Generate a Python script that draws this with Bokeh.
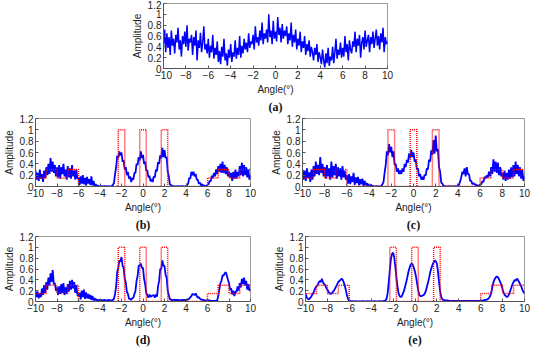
from bokeh.plotting import figure
from bokeh.layouts import column, row
from bokeh.models import Range1d, FixedTicker, Title
from bokeh.embed import file_html
from bokeh.resources import INLINE
import numpy as np

angle = np.round(np.arange(-10, 10.0001, 0.1), 1)

amp_a = [
0.45,0.72,0.30,0.65,0.38,0.58,0.25,0.70,0.42,0.55,
0.28,0.62,0.48,0.75,0.35,0.52,0.22,0.60,0.45,0.68,
0.40,0.80,0.33,0.55,0.48,0.62,0.25,0.58,0.42,0.70,
0.15,0.52,0.38,0.66,0.30,0.48,0.78,0.35,0.45,0.28,
0.55,0.20,0.42,0.30,0.62,0.18,0.38,0.25,0.50,0.12,
0.32,0.08,0.40,0.22,0.55,0.15,0.28,0.05,0.35,0.20,
0.45,0.12,0.30,0.22,0.52,0.18,0.38,0.25,0.60,0.20,
0.42,0.28,0.55,0.35,0.48,0.30,0.65,0.38,0.50,0.45,
0.62,0.35,0.78,0.48,0.58,0.42,0.70,0.52,0.85,0.45,
0.65,0.55,0.72,0.48,1.00,0.58,0.70,0.45,0.88,0.55,
0.68,0.50,0.95,0.62,0.75,0.48,0.82,0.55,0.70,0.60,
0.78,0.45,0.65,0.52,0.85,0.40,0.62,0.48,0.72,0.35,
0.55,0.42,0.68,0.30,0.50,0.38,0.60,0.25,0.45,0.32,
0.52,0.22,0.40,0.30,0.15,0.38,0.25,0.45,0.12,0.30,
0.20,0.08,0.35,0.15,0.02,0.28,0.10,0.38,0.05,0.22,
0.15,0.40,0.10,0.30,0.55,0.18,0.35,0.25,0.48,0.20,
0.38,0.22,0.60,0.30,0.45,0.15,0.52,0.35,0.28,0.50,
0.40,0.68,0.30,0.55,0.42,0.62,0.20,0.48,0.58,0.35,
0.70,0.40,0.52,0.62,0.30,0.58,0.45,0.68,0.38,0.55,
0.72,0.42,0.60,0.35,0.65,0.48,0.75,0.30,0.58,0.45,
0.50]

amp_b = [
0.28,0.12,0.24,0.10,0.30,0.14,0.22,0.08,0.28,0.15,
0.34,0.20,0.40,0.22,0.50,0.26,0.44,0.24,0.38,0.18,
0.34,0.16,0.38,0.14,0.34,0.22,0.40,0.18,0.30,0.12,
0.36,0.16,0.32,0.14,0.38,0.18,0.28,0.12,0.30,0.14,
0.16,0.03,0.18,0.05,0.20,0.04,0.15,0.02,0.17,0.05,
0.13,0.03,0.18,0.02,0.10,0.01,0.04,0.00,0.02,0.00,
0.00,0.01,0.00,0.00,0.01,0.00,0.00,0.01,0.00,0.00,
0.00,0.01,0.03,0.06,0.22,0.34,0.54,0.50,0.62,0.55,
0.60,0.44,0.46,0.30,0.34,0.20,0.26,0.14,0.18,0.08,
0.15,0.12,0.24,0.24,0.40,0.38,0.52,0.46,0.62,0.50,
0.56,0.40,0.44,0.28,0.29,0.16,0.19,0.09,0.13,0.08,
0.18,0.16,0.30,0.27,0.43,0.40,0.55,0.50,0.68,0.52,
0.64,0.50,0.52,0.26,0.18,0.04,0.03,0.00,0.01,0.00,
0.00,0.00,0.01,0.00,0.00,0.00,0.01,0.00,0.00,0.00,
0.00,0.03,0.05,0.15,0.14,0.26,0.20,0.26,0.18,0.22,
0.12,0.12,0.05,0.07,0.02,0.04,0.01,0.02,0.00,0.01,
0.03,0.04,0.10,0.09,0.19,0.15,0.24,0.18,0.30,0.22,
0.36,0.26,0.40,0.24,0.44,0.24,0.38,0.22,0.34,0.18,
0.26,0.16,0.24,0.10,0.26,0.14,0.30,0.14,0.26,0.18,
0.36,0.20,0.42,0.18,0.38,0.20,0.34,0.16,0.30,0.12,
0.20]

amp_c = [
0.30,0.12,0.28,0.10,0.32,0.15,0.25,0.08,0.30,0.12,
0.36,0.18,0.44,0.22,0.38,0.20,0.52,0.24,0.40,0.18,
0.34,0.14,0.38,0.18,0.32,0.12,0.44,0.16,0.36,0.20,
0.40,0.14,0.34,0.18,0.32,0.12,0.36,0.16,0.28,0.12,
0.20,0.05,0.22,0.04,0.18,0.08,0.24,0.03,0.16,0.06,
0.17,0.02,0.13,0.04,0.14,0.01,0.10,0.02,0.06,0.01,
0.04,0.00,0.03,0.00,0.01,0.00,0.00,0.01,0.00,0.00,
0.00,0.01,0.04,0.08,0.25,0.38,0.62,0.55,0.75,0.60,
0.70,0.52,0.62,0.38,0.40,0.26,0.32,0.22,0.28,0.22,
0.32,0.26,0.40,0.34,0.47,0.42,0.58,0.50,0.64,0.52,
0.60,0.44,0.48,0.30,0.32,0.18,0.22,0.12,0.17,0.12,
0.21,0.19,0.32,0.30,0.47,0.44,0.64,0.56,0.82,0.58,
0.90,0.62,0.66,0.34,0.26,0.07,0.05,0.01,0.01,0.00,
0.00,0.00,0.01,0.00,0.00,0.00,0.00,0.01,0.00,0.00,
0.00,0.03,0.09,0.16,0.26,0.22,0.32,0.18,0.34,0.22,
0.22,0.10,0.10,0.04,0.06,0.03,0.04,0.01,0.02,0.01,
0.03,0.04,0.09,0.08,0.17,0.14,0.20,0.16,0.26,0.18,
0.34,0.22,0.48,0.26,0.44,0.24,0.42,0.20,0.34,0.18,
0.24,0.12,0.28,0.10,0.24,0.12,0.30,0.14,0.34,0.16,
0.38,0.18,0.44,0.22,0.38,0.18,0.34,0.14,0.30,0.10,
0.18]

amp_d = [
0.20,0.08,0.18,0.06,0.15,0.08,0.24,0.12,0.30,0.16,
0.36,0.22,0.44,0.30,0.52,0.36,0.58,0.32,0.34,0.20,
0.26,0.12,0.28,0.14,0.32,0.16,0.34,0.12,0.26,0.14,
0.32,0.18,0.38,0.22,0.40,0.24,0.36,0.16,0.30,0.12,
0.10,0.16,0.04,0.20,0.08,0.22,0.05,0.17,0.06,0.14,
0.05,0.12,0.03,0.10,0.02,0.06,0.02,0.04,0.01,0.03,
0.02,0.03,0.02,0.02,0.03,0.02,0.02,0.02,0.03,0.02,
0.02,0.02,0.03,0.05,0.14,0.28,0.54,0.62,0.76,0.74,
0.82,0.66,0.62,0.42,0.35,0.18,0.14,0.05,0.05,0.03,
0.06,0.07,0.14,0.20,0.38,0.47,0.66,0.66,0.70,0.62,
0.62,0.42,0.32,0.16,0.12,0.07,0.13,0.09,0.10,0.11,
0.12,0.07,0.13,0.09,0.28,0.38,0.60,0.60,0.76,0.66,
0.66,0.50,0.44,0.20,0.12,0.04,0.04,0.02,0.03,0.03,
0.02,0.03,0.02,0.03,0.02,0.02,0.03,0.02,0.03,0.02,
0.03,0.03,0.04,0.05,0.08,0.10,0.14,0.13,0.12,0.15,
0.10,0.07,0.08,0.05,0.04,0.03,0.03,0.02,0.02,0.02,
0.02,0.02,0.02,0.01,0.01,0.01,0.01,0.01,0.01,0.02,
0.10,0.22,0.34,0.38,0.48,0.48,0.52,0.54,0.48,0.40,
0.34,0.22,0.24,0.13,0.20,0.10,0.18,0.18,0.28,0.20,
0.34,0.26,0.42,0.32,0.44,0.30,0.38,0.22,0.32,0.20,
0.22]

amp_e = [
0.15,0.08,0.05,0.04,0.06,0.08,0.12,0.15,0.20,0.25,
0.28,0.30,0.35,0.38,0.36,0.42,0.35,0.32,0.30,0.25,
0.22,0.18,0.15,0.14,0.15,0.18,0.20,0.24,0.28,0.32,
0.36,0.38,0.40,0.42,0.40,0.35,0.28,0.20,0.10,0.04,
0.01,0.01,0.00,0.01,0.00,0.00,0.01,0.00,0.00,0.00,
0.00,0.00,0.01,0.00,0.00,0.00,0.00,0.01,0.00,0.00,
0.00,0.00,0.00,0.01,0.00,0.00,0.00,0.00,0.01,0.00,
0.00,0.01,0.01,0.02,0.05,0.15,0.35,0.58,0.78,0.88,
0.90,0.82,0.65,0.45,0.28,0.15,0.10,0.08,0.10,0.15,
0.20,0.28,0.36,0.45,0.55,0.62,0.68,0.70,0.68,0.62,
0.55,0.45,0.32,0.20,0.12,0.10,0.10,0.11,0.12,0.15,
0.20,0.28,0.36,0.45,0.55,0.62,0.68,0.72,0.76,0.74,
0.70,0.55,0.35,0.18,0.08,0.04,0.03,0.02,0.02,0.02,
0.02,0.01,0.01,0.01,0.01,0.01,0.01,0.01,0.01,0.01,
0.01,0.01,0.01,0.01,0.01,0.01,0.01,0.01,0.01,0.01,
0.01,0.01,0.01,0.01,0.01,0.01,0.01,0.01,0.01,0.01,
0.01,0.01,0.02,0.02,0.03,0.03,0.04,0.05,0.08,0.12,
0.20,0.30,0.38,0.42,0.45,0.46,0.44,0.40,0.35,0.30,
0.22,0.16,0.12,0.10,0.08,0.10,0.14,0.20,0.26,0.32,
0.36,0.40,0.38,0.42,0.40,0.36,0.32,0.28,0.22,0.18,
0.15]

true_edges = [-10, -9, -8, -7, -6, -2.3, -1.7, -0.3, 0.3, 1.7, 2.3, 6, 7, 8, 9, 10]
true_levels = [0.15, 0.3, 0.15, 0.3, 0, 1, 0, 1, 0, 1, 0, 0.15, 0.3, 0.15, 0.3]

x_ticks = [-10, -8, -6, -4, -2, 0, 2, 4, 6, 8, 10]
y_ticks = [0, 0.2, 0.4, 0.6, 0.8, 1, 1.2]
y_labels = ["0", "0.2", "0.4", "0.6", "0.8", "1", "1.2"]
captions = ["(a)", "(b)", "(c)", "(d)", "(e)"]

SANS = "Liberation Sans"


def make_panel(width, height, bl, br, bt, bb, amp, caption, truth, lw):
    p = figure(width=width, height=height, output_backend="svg",
               toolbar_location=None, x_range=Range1d(-10, 10),
               y_range=Range1d(0, 1.2),
               min_border_left=bl, min_border_right=br,
               min_border_top=bt, min_border_bottom=bb)
    p.xgrid.visible = False
    p.ygrid.visible = False
    p.outline_line_color = "#9a9a9a"
    p.background_fill_color = "white"
    p.border_fill_color = "white"
    p.xaxis.ticker = FixedTicker(ticks=x_ticks)
    p.yaxis.ticker = FixedTicker(ticks=y_ticks)
    p.yaxis.major_label_overrides = {t: l for t, l in zip(y_ticks, y_labels)}
    for ax in (p.xaxis[0], p.yaxis[0]):
        ax.major_tick_in = 3
        ax.major_tick_out = 0
        ax.minor_tick_line_color = None
        ax.axis_line_color = "#555555"
        ax.major_tick_line_color = "#555555"
        ax.major_label_text_font = SANS
        ax.major_label_text_font_size = "10px"
        ax.major_label_text_color = "#222222"
        ax.axis_label_text_font = SANS
        ax.axis_label_text_font_size = "10px"
        ax.axis_label_text_font_style = "normal"
        ax.axis_label_text_color = "#222222"
        ax.major_label_standoff = 2
        ax.axis_label_standoff = 2
    p.xaxis.axis_label = "Angle(°)"
    p.yaxis.axis_label = "Amplitude"
    p.line(angle, amp, line_color="#0000ff", line_width=lw)
    if truth:
        p.step(true_edges, true_levels + [true_levels[-1]], mode="after",
               line_color="#ff0000", line_width=1.5, line_dash="1 1")
    p.add_layout(Title(text=caption, align="center", text_font="Liberation Serif",
                       text_font_style="bold", text_font_size="12px",
                       text_color="#111111", standoff=1), "below")
    return p


pa = make_panel(534, 114, 163, 147, 3, 43, amp_a, captions[0], False, 1.5)
pb = make_panel(267, 118, 32, 17, 4, 45, amp_b, captions[1], True, 1.8)
pc = make_panel(267, 118, 32, 10, 4, 45, amp_c, captions[2], True, 1.8)
pd = make_panel(267, 115, 32, 17, 4, 44, amp_d, captions[3], True, 1.8)
pe = make_panel(267, 115, 38, 10, 4, 44, amp_e, captions[4], True, 1.8)

layout = column(pa, row(pb, pc), row(pd, pe))
open("out.html", "w").write(file_html(layout, INLINE))
